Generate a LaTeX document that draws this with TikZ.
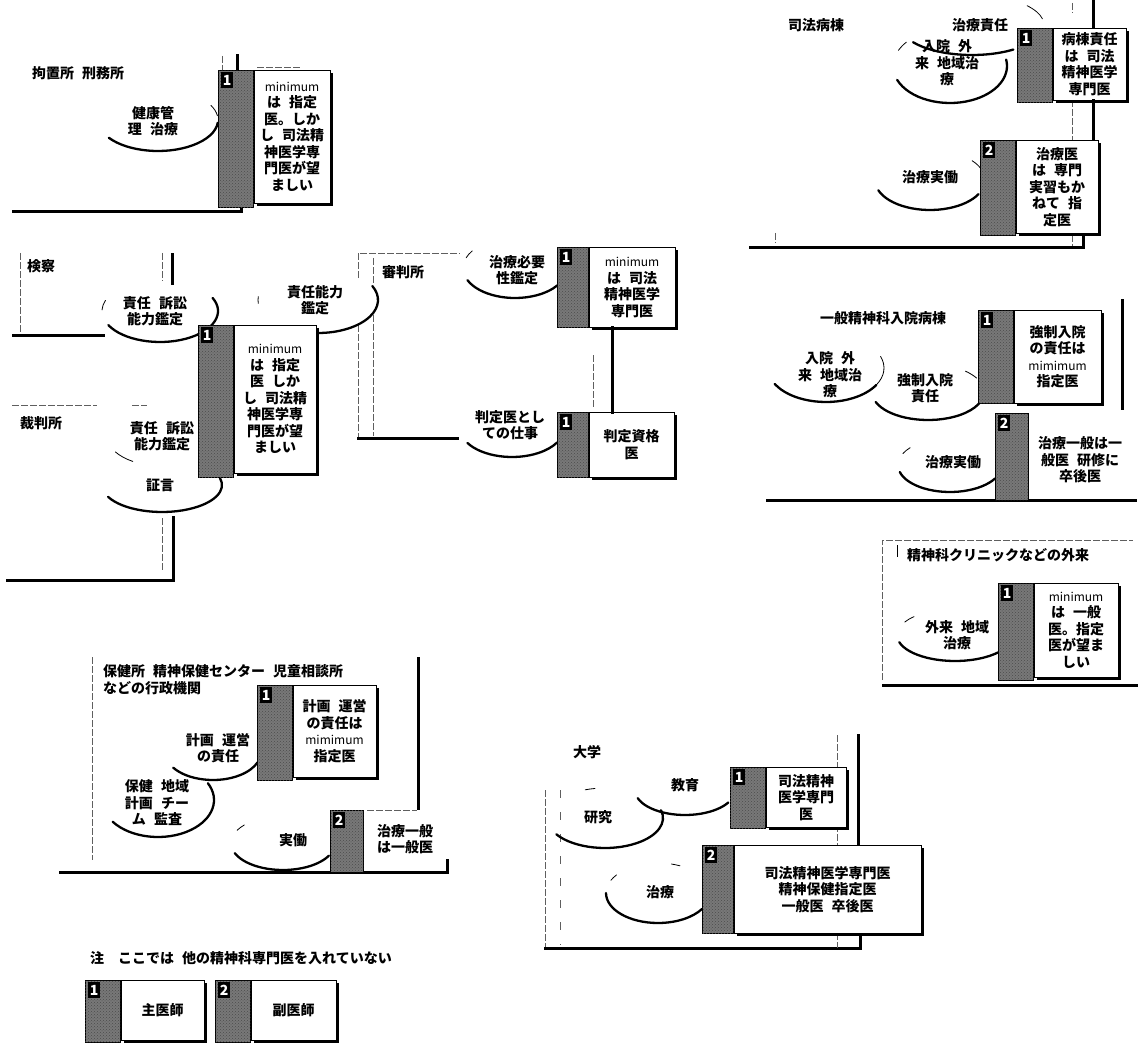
\documentclass[tikz,border=0pt]{standalone}
\usepackage{fontspec}
\setmainfont{Noto Sans CJK JP}[WordSpace=2.5]
\usepackage{tikz}
\usetikzlibrary{positioning, calc, shadows, patterns}
\definecolor{TabGray}{RGB}{120,120,120}
\definecolor{FrameGray}{RGB}{95,95,95}
\newcommand\cardfont{\bfseries\fontsize{14}{16.5}\selectfont}
\newcommand\minifont{\mdseries\fontsize{12}{16.5}\selectfont}
\newcommand\bubblearc[6][cloud]{\draw[#1] (#2) ++(#3) ++(#5:#4) arc (#5:#6:#4);}
\tikzset{
  tab/.style={draw=black, line width=0.7pt, fill=TabGray,
    postaction={pattern=crosshatch dots, pattern color=black!70},
    minimum width=35pt, inner sep=0pt, anchor=north west},
  tabnum/.style={fill=black, text=white, font=\bfseries\fontsize{14}{14}\selectfont,
    inner sep=0pt, minimum width=12pt, minimum height=16pt, anchor=north west},
  cardbox/.style={draw=black, line width=0.7pt, fill=white, anchor=north west,
    inner sep=2pt, align=center, font=\cardfont,
    drop shadow={shadow xshift=2.8pt, shadow yshift=-2.8pt, fill=black, opacity=1}},
  cardtext/.style={align=center, inner sep=0pt, font=\cardfont},
  bubbletext/.style={align=center, inner sep=0pt, font=\cardfont},
  placelabel/.style={anchor=west, inner sep=0pt, font=\cardfont},
  cloud/.style={line width=2.3pt, line cap=round},
  cloudtick/.style={line width=0.8pt, line cap=round},
  edgethin/.style={line width=0.8pt, FrameGray, dash pattern=on 7pt off 2pt},
  edgethick/.style={line width=3pt, line cap=rect}
}
\begin{document}
\begin{tikzpicture}[x=1pt, y=-1pt]
  \useasboundingbox (0,0) rectangle (1138,1043);
  \fill[white] (0,0) rectangle (1138,1043);

  % frames of the places
  \draw[edgethick] (13,212) -- (241,212) -- (241,205);
  \draw[edgethin] (222,56) -- (222,70);
  \draw[edgethick] (237,56) -- (237,70);
  \draw[edgethin] (257,67) -- (300,67);
  \draw[edgethin] (20,253) -- (20,335);
  \draw[edgethick] (13,335) -- (103,335);
  \draw[edgethin] (162,253) -- (162,281);
  \draw[edgethick] (172,255) -- (172,283);
  \draw[edgethin] (12,405) -- (97,405);
  \draw[edgethin] (132,405) -- (147,405);
  \draw[edgethick] (7,580) -- (173,580) -- (173,517);
  \draw[edgethin] (162,518) -- (162,570);
  \draw[edgethin] (358,278) -- (358,253) -- (460,253);
  \draw[edgethin] (358,325) -- (358,438);
  \draw[edgethin] (373,258) -- (373,285);
  \draw[edgethin] (373,315) -- (373,436);
  \draw[edgethick] (358,438) -- (457,438);
  \draw[edgethin] (1072,3) -- (1072,13);
  \draw[edgethin] (1072,37) -- (1072,247);
  \draw[edgethick] (1093,0) -- (1093,27);
  \draw[edgethick] (750,248) -- (1083,248) -- (1083,237);
  \draw[edgethin] (775,233) -- (775,243);
  \draw[edgethick] (1122,300) -- (1122,408);
  \draw[edgethick] (767,500) -- (1135,500);
  \draw[edgethin] (882,680) -- (882,540) -- (1133,540);
  \draw[line width=0.8pt] (897,545) -- (897,557);
  \draw[edgethick] (883,685) -- (1137,685);
  \draw[edgethin] (92,657) -- (92,860);
  \draw[edgethick] (418,658) -- (418,808);
  \draw[edgethin] (367,810) -- (417,810);
  \draw[edgethick] (60,872) -- (447,872) -- (447,860);
  \draw[edgethin] (545,790) -- (545,948);
  \draw[edgethin, dash pattern=on 8pt off 14pt] (560,790) -- (560,945);
  \draw[edgethick] (545,948) -- (860,948) -- (860,933);
  \draw[edgethick] (858,735) -- (858,843);
  \draw[edgethin] (837,735) -- (837,948);

  % place names
  \node[placelabel] (pKochi) at (32,73) {拘置所 刑務所};
  \node[placelabel] (pKensatsu) at (27,266) {検察};
  \node[placelabel] (pSaiban) at (20,423) {裁判所};
  \node[placelabel] (pShinpan) at (382,272) {審判所};
  \node[placelabel] (pShiho) at (788,25) {司法病棟};
  \node[placelabel] (pIppan) at (820,318) {一般精神科入院病棟};
  \node[placelabel] (pClinic) at (907,555) {精神科クリニックなどの外来};
  \node[placelabel, anchor=north west, align=left, font=\bfseries\fontsize{14}{17}\selectfont]
    (pHoken) at (103,664) {保健所 精神保健センター 児童相談所\\などの行政機関};
  \node[placelabel] (pDaigaku) at (573,752) {大学};
  \node[placelabel] (pNote) at (90,958) {注　ここでは 他の精神科専門医を入れていない};

  % bubbles
  \node[bubbletext] (bKenko) at (153,121) {健康管\\理 治療};
  \node[bubbletext] (bKensatsu) at (155,311) {責任 訴訟\\能力鑑定};
  \node[bubbletext] (bSaiban) at (162,436) {責任 訴訟\\能力鑑定};
  \node[bubbletext] (bShogen) at (160,485) {証言};
  \node[bubbletext] (bNoryoku) at (315,300) {責任能力\\鑑定};
  \node[bubbletext] (bHitsuyo) at (517,270) {治療必要\\性鑑定};
  \node[bubbletext] (bHantei) at (510,425) {判定医とし\\ての仕事};
  \node[bubbletext] (bSekinin) at (980,25) {治療責任};
  \node[bubbletext] (bNyuinA) at (947,63) {入院 外\\来 地域治\\療};
  \node[bubbletext] (bJitsudoA) at (930,177) {治療実働};
  \node[bubbletext] (bNyuinB) at (830,375) {入院 外\\来 地域治\\療};
  \node[bubbletext] (bKyosei) at (925,388) {強制入院\\責任};
  \node[bubbletext] (bJitsudoB) at (953,462) {治療実働};
  \node[bubbletext] (bGairai) at (957,635) {外来 地域\\治療};
  \node[bubbletext] (bKeikaku) at (218,748) {計画 運営\\の責任};
  \node[bubbletext] (bHoken) at (157,803) {保健 地域\\計画 チー\\ム 監査};
  \node[bubbletext] (bJitsudoC) at (293,840) {実働};
  \node[bubbletext] (bKyoiku) at (685,785) {教育};
  \node[bubbletext] (bKenkyu) at (598,817) {研究};
  \node[bubbletext] (bChiryo) at (660,892) {治療};

  \bubblearc{bKenko}{5,-1}{60pt and 31pt}{215}{355}
  \bubblearc[cloudtick]{bKenko}{5,-1}{60pt and 31pt}{8}{28}
  \bubblearc{bKensatsu}{5,0}{58pt and 31pt}{207}{385}
  \bubblearc[cloudtick]{bKensatsu}{5,0}{58pt and 31pt}{160}{178}
  \bubblearc[cloudtick]{bSaiban}{0,0}{55pt and 30pt}{212}{238}
  \bubblearc{bShogen}{2,0}{60pt and 27pt}{206}{375}
  \bubblearc{bNoryoku}{3,0}{60pt and 33pt}{270}{385}
  \bubblearc[cloudtick]{bNoryoku}{3,0}{60pt and 33pt}{174}{186}
  \bubblearc{bHitsuyo}{-2,-2}{52pt and 30pt}{204}{325}
  \bubblearc[cloudtick]{bHitsuyo}{-2,-2}{52pt and 30pt}{145}{160}
  \bubblearc{bHantei}{2,3}{52pt and 29pt}{211}{330}
  \bubblearc{bSekinin}{-8,0}{72pt and 30pt}{215}{305}
  \bubblearc[cloudtick]{bSekinin}{-8,0}{72pt and 30pt}{12}{40}
  \bubblearc{bNyuinA}{3,3}{57pt and 37pt}{202}{370}
  \bubblearc[cloudtick]{bNyuinA}{3,3}{57pt and 37pt}{140}{155}
  \bubblearc{bJitsudoA}{0,3}{55pt and 30pt}{200}{332}
  \bubblearc[cloudtick]{bJitsudoA}{0,3}{55pt and 30pt}{22}{40}
  \bubblearc{bNyuinB}{-4,-7}{58pt and 34pt}{208}{330}
  \bubblearc[cloudtick]{bNyuinB}{-4,-7}{58pt and 34pt}{330}{380}
  \bubblearc{bKyosei}{3,4}{56pt and 28pt}{201}{348}
  \bubblearc[cloudtick]{bKyosei}{3,4}{56pt and 28pt}{30}{48}
  \bubblearc{bJitsudoB}{-3,3}{52pt and 27pt}{195}{330}
  \bubblearc[cloudtick]{bJitsudoB}{-3,3}{52pt and 27pt}{140}{155}
  \bubblearc{bGairai}{-2,0}{58pt and 26pt}{196}{318}
  \bubblearc[cloudtick]{bGairai}{-2,0}{58pt and 26pt}{135}{150}
  \bubblearc{bKeikaku}{-5,4}{48pt and 28pt}{214}{338}
  \bubblearc{bHoken}{1,-3}{56pt and 37pt}{216}{387}
  \bubblearc{bJitsudoC}{-10,3}{52pt and 27pt}{202}{332}
  \bubblearc[cloudtick]{bJitsudoC}{-10,3}{52pt and 27pt}{138}{152}
  \bubblearc{bKyoiku}{0,5}{50pt and 25pt}{199}{330}
  \bubblearc{bKenkyu}{7,1}{58pt and 30pt}{213}{375}
  \bubblearc[cloudtick]{bKenkyu}{7,1}{58pt and 30pt}{100}{110}
  \bubblearc{bChiryo}{-2,1}{52pt and 30pt}{180}{328}
  \bubblearc[cloudtick]{bChiryo}{-2,1}{52pt and 30pt}{143}{155}
  \bubblearc[cloudtick]{bChiryo}{-2,1}{52pt and 30pt}{65}{75}

  % cards: tab with number, then the text box
  \node[tab, minimum height=137pt] (tA) at (218,70) {};
  \node[tabnum, below right=2pt and 3pt of tA.north west] (nA) {1};
  \node[cardbox, minimum width=76pt, minimum height=133pt] (bA) at (tA.north east)
    {{\minifont minimum}\\は 指定\\医。しか\\し 司法精\\神医学専\\門医が望\\ましい};

  \node[tab, minimum height=152pt] (tB) at (198,325) {};
  \node[tabnum, below right=2pt and 3pt of tB.north west] (nB) {1};
  \node[cardbox, minimum width=82pt, minimum height=148pt] (bB) at (tB.north east)
    {{\minifont minimum}\\は 指定\\医 しか\\し 司法精\\神医学専\\門医が望\\ましい};

  \node[tab, minimum width=31pt, minimum height=80pt] (tC1) at (557,247) {};
  \node[tabnum, below right=2pt and 3pt of tC1.north west] (nC1) {1};
  \node[cardbox, minimum width=86pt, minimum height=80pt] (bC1) at (tC1.north east)
    {{\minifont minimum}\\は 司法\\精神医学\\専門医};

  \node[tab, minimum width=31pt, minimum height=65pt] (tC2) at (557,412) {};
  \node[tabnum, below right=2pt and 3pt of tC2.north west] (nC2) {1};
  \node[cardbox, minimum width=85pt, minimum height=65pt] (bC2) at (tC2.north east)
    {判定資格\\医};

  \node[tab, minimum height=74pt] (tD1) at (1017,28) {};
  \node[tabnum, below right=2pt and 3pt of tD1.north west] (nD1) {1};
  \node[cardbox, minimum width=73pt, minimum height=72pt] (bD1) at (tD1.north east)
    {病棟責任\\は 司法\\精神医学\\専門医};

  \node[tab, minimum height=95pt] (tD2) at (980,140) {};
  \node[tabnum, below right=2pt and 3pt of tD2.north west] (nD2) {2};
  \node[cardbox, minimum width=82pt, minimum height=93pt] (bD2) at (tD2.north east)
    {治療医\\は 専門\\実習もか\\ねて 指\\定医};

  \node[tab, minimum height=93pt] (tE1) at (978,310) {};
  \node[tabnum, below right=2pt and 3pt of tE1.north west] (nE1) {1};
  \node[cardbox, minimum width=87pt, minimum height=93pt] (bE1) at (tE1.north east)
    {強制入院\\の責任は\\{\minifont mimimum}\\指定医};

  \node[tab, minimum width=33pt, minimum height=87pt] (tE2) at (995,413) {};
  \node[tabnum, below right=2pt and 3pt of tE2.north west] (nE2) {2};
  \node[cardtext] (bE2) at (1080,460) {治療一般は一\\般医 研修に\\卒後医};

  \node[tab, minimum height=97pt] (tG) at (998,583) {};
  \node[tabnum, below right=2pt and 3pt of tG.north west] (nG) {1};
  \node[cardbox, minimum width=84pt, minimum height=94pt] (bG) at (tG.north east)
    {{\minifont minimum}\\は 一般\\医。指定\\医が望ま\\しい};

  \node[tab, minimum height=95pt] (tH1) at (257,685) {};
  \node[tabnum, below right=2pt and 3pt of tH1.north west] (nH1) {1};
  \node[cardbox, minimum width=83pt, minimum height=92pt] (bH1) at (tH1.north east)
    {計画 運営\\の責任は\\{\minifont mimimum}\\指定医};

  \node[tab, minimum width=33pt, minimum height=62pt] (tH2) at (330,810) {};
  \node[tabnum, below right=2pt and 3pt of tH2.north west] (nH2) {2};
  \node[cardtext] (bH2) at (405,839) {治療一般\\は一般医};

  \node[tab, minimum height=61pt] (tU1) at (730,767) {};
  \node[tabnum, below right=2pt and 3pt of tU1.north west] (nU1) {1};
  \node[cardbox, minimum width=80pt, minimum height=60pt] (bU1) at (tU1.north east)
    {司法精神\\医学専門\\医};

  \node[tab, minimum width=31pt, minimum height=88pt] (tU2) at (702,845) {};
  \node[tabnum, below right=2pt and 3pt of tU2.north west] (nU2) {2};
  \node[cardbox, minimum width=187pt, minimum height=88pt] (bU2) at (tU2.north east)
    {司法精神医学専門医\\精神保健指定医\\一般医 卒後医};

  % legend
  \node[tab, minimum height=62pt] (tL1) at (85,980) {};
  \node[tabnum, below right=2pt and 3pt of tL1.north west] (nL1) {1};
  \node[cardbox, minimum width=83pt, minimum height=60pt] (bL1) at (tL1.north east) {主医師};
  \node[tab, minimum height=62pt] (tL2) at (215,980) {};
  \node[tabnum, below right=2pt and 3pt of tL2.north west] (nL2) {2};
  \node[cardbox, minimum width=85pt, minimum height=60pt] (bL2) at (tL2.north east) {副医師};

  % links between stacked cards
  \draw[edgethick] (612,0 |- bC1.south) -- (612,0 |- bC2.north);
  \draw[edgethin] (593,355) -- (593,408);
  \draw[edgethick] (1093,0 |- bD1.south) -- (1093,0 |- bD2.north);
\end{tikzpicture}
\end{document}
